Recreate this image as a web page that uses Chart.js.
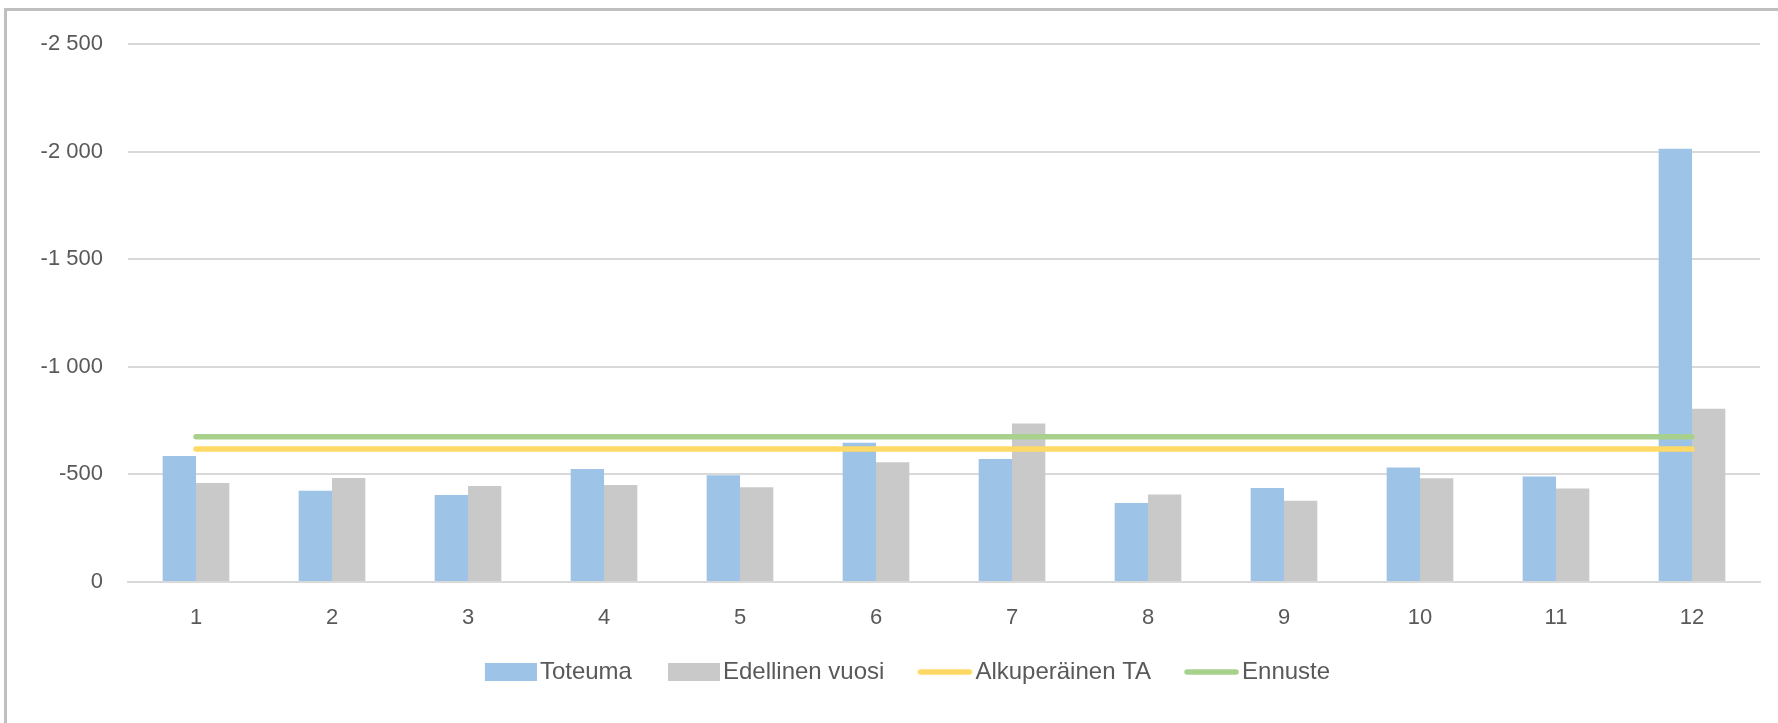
<!DOCTYPE html>
<html>
<head>
<meta charset="utf-8">
<script src="https://cdn.jsdelivr.net/npm/chart.js@4/dist/chart.umd.min.js"></script>
<style>
    html, body { margin: 0; padding: 0; background: #fff; overflow: hidden; }
    #frame {
        position: absolute; left: 4px; top: 8px; width: 2000px; height: 1000px;
        border-left: 3px solid #bfbfbf; border-top: 3px solid #bfbfbf;
    }
    #wrap { position: absolute; left: 0; top: 0; width: 1778px; height: 723px; }
</style>
</head>
<body>
<div id="frame"></div>
<div id="wrap"><canvas id="chart"></canvas></div>
<script>
var months = ['1', '2', '3', '4', '5', '6', '7', '8', '9', '10', '11', '12'];
var toteuma = [-585, -424, -404, -525, -496, -647, -571, -367, -437, -532, -490, -2013];
var edellinenVuosi = [-460, -483, -446, -451, -440, -556, -737, -407, -378, -482, -435, -805];
var alkuperainenTA = [-618, -618, -618, -618, -618, -618, -618, -618, -618, -618, -618, -618];
var ennuste = [-675, -675, -675, -675, -675, -675, -675, -675, -675, -675, -675, -675];

var fontFamily = "'Liberation Sans', Arial, sans-serif";
var textColor = '#595959';
var legendFont = 24;
var swatchW = 52;
var swatchShift = 9;
var swatchPad = 6;

function fmt(v) {
    var s = Math.abs(v).toString();
    if (s.length > 3) s = s.slice(0, s.length - 3) + ' ' + s.slice(s.length - 3);
    return (v < 0 ? '-' : '') + s;
}

// legend swatch drawn a bit right of its slot so the text sits close to it
function swatch(color, isLine) {
    var c = document.createElement('canvas');
    c.width = swatchW + 2 * swatchShift + 2 * swatchPad;
    c.height = 18;
    var g = c.getContext('2d');
    var x0 = swatchPad + 2 * swatchShift;
    if (isLine) {
        g.strokeStyle = color;
        g.lineWidth = 5.5;
        g.lineCap = 'round';
        g.beginPath();
        g.moveTo(x0, 9);
        g.lineTo(x0 + swatchW - 3, 9);
        g.stroke();
    } else {
        g.fillStyle = color;
        g.fillRect(x0, 0, swatchW, 18);
    }
    return c;
}

var legendShift = {
    id: 'legendShift',
    afterLayout: function(c) {
        c.legend.left += 16;
    }
};

var ctx = document.getElementById('chart').getContext('2d');
ctx.canvas.width = 1778;
ctx.canvas.height = 723;
var chart = new Chart(ctx, {
    type: 'bar',
    data: {
        labels: months,
        datasets: [{
            label: 'Toteuma',
            data: toteuma,
            backgroundColor: '#9dc3e6',
            borderWidth: 0,
            order: 3
        }, {
            label: 'Edellinen vuosi',
            data: edellinenVuosi,
            backgroundColor: '#c9c9c9',
            borderWidth: 0,
            order: 4
        }, {
            type: 'line',
            label: 'Alkuperäinen TA',
            data: alkuperainenTA,
            borderColor: '#ffd966',
            backgroundColor: '#ffd966',
            borderWidth: 5.5,
            borderCapStyle: 'round',
            pointRadius: 0,
            fill: false,
            order: 2
        }, {
            type: 'line',
            label: 'Ennuste',
            data: ennuste,
            borderColor: '#a9d18e',
            backgroundColor: '#a9d18e',
            borderWidth: 5.5,
            borderCapStyle: 'round',
            pointRadius: 0,
            fill: false,
            order: 1
        }]
    },
    plugins: [legendShift],
    options: {
        responsive: false,
        animation: false,
        layout: {
            padding: { left: 30, right: 18, top: 44, bottom: 29 }
        },
        datasets: {
            bar: { categoryPercentage: 0.49, barPercentage: 1.0 }
        },
        scales: {
            x: {
                afterFit: function(scale) { scale.height = 51; },
                grid: { display: false },
                border: { color: '#d9d9d9', width: 2 },
                ticks: {
                    color: textColor,
                    padding: 15,
                    font: { family: fontFamily, size: 22 }
                }
            },
            y: {
                reverse: true,
                min: -2500,
                max: 0,
                afterFit: function(scale) { scale.width = 98; },
                grid: { color: '#d9d9d9', lineWidth: 2, drawTicks: false },
                border: { display: false },
                ticks: {
                    stepSize: 500,
                    color: textColor,
                    padding: 25,
                    font: { family: fontFamily, size: 22 },
                    callback: function(v) { return fmt(v); }
                }
            }
        },
        plugins: {
            tooltip: { enabled: false },
            legend: {
                position: 'bottom',
                labels: {
                    color: textColor,
                    font: { family: fontFamily, size: legendFont },
                    usePointStyle: true,
                    pointStyleWidth: swatchW,
                    boxHeight: 18,
                    padding: 27,
                    generateLabels: function(c) {
                        return c.data.datasets.map(function(ds, i) {
                            var isLine = ds.type === 'line';
                            return {
                                text: ds.label,
                                fillStyle: ds.backgroundColor,
                                strokeStyle: ds.backgroundColor,
                                lineWidth: 0,
                                pointStyle: swatch(ds.backgroundColor, isLine),
                                fontColor: textColor,
                                hidden: false,
                                datasetIndex: i
                            };
                        });
                    }
                }
            }
        }
    }
});
</script>
</body>
</html>
